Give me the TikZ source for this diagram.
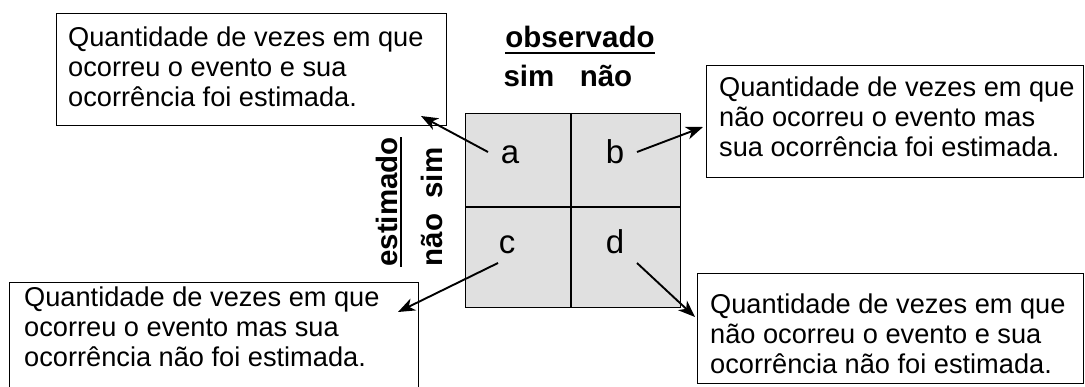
\documentclass[tikz,border=0pt]{standalone}
\usepackage{fontspec}
\setmainfont{Liberation Sans}
\usetikzlibrary{arrows.meta,calc}
\begin{document}
\begin{tikzpicture}[x=1pt,y=-1pt,
  frame/.style={draw, line width=1.4pt, inner sep=0pt, anchor=north west},
  boxtext/.style={anchor=north west, inner sep=0pt, align=left,
    font=\fontsize{27.2}{29.6}\selectfont},
  hdr/.style={inner sep=0pt, anchor=base, font=\fontsize{29.5}{34}\selectfont\bfseries},
  letter/.style={inner sep=0pt, anchor=base, font=\fontsize{33}{38}\selectfont},
  arr/.style={line width=1.9pt, -{Stealth[length=17pt, width=13pt, inset=5pt]}},
  uline/.style={line width=2.2pt}]
\useasboundingbox (0,0) rectangle (1085,387);

% grid
\node[frame, fill=black!12, minimum width=215pt, minimum height=194pt] (grid) at (465,113) {};
\draw[line width=1.4pt] (571,113) -- (571,307);
\draw[line width=1.4pt] (465,207) -- (680,207);

% letters
\node[letter] (a) at (510,164) {a};
\node[letter] (b) at (615,164) {b};
\node[letter] (c) at (507,254) {c};
\node[letter] (d) at (615,254) {d};

% headers
\node[hdr] (obs) at (580,48) {observado};
\draw[uline] ($(obs.base west)+(0,5)$) -- ($(obs.base east)+(0,5)$);
\node[hdr] (osim) at (529,87) {sim};
\node[hdr] (onao) at (606,87) {não};
\node[hdr, rotate=90] (est) at (397,202) {estimado};
\draw[uline] ($(est.base west)+(4,0)$) -- ($(est.base east)+(4,0)$);
\node[hdr, rotate=90] (esim) at (442,173) {sim};
\node[hdr, rotate=90] (enao) at (442,240) {não};

% boxes
\node[frame, minimum width=390pt, minimum height=112pt] (tlf) at (56,13) {};
\node[boxtext] (tlt) at (68,27) {Quantidade de vezes em que\\ocorreu o evento e sua\\ocorrência foi estimada.};

\node[frame, minimum width=377pt, minimum height=112pt] (trf) at (706,65) {};
\node[boxtext] (trt) at (719,77) {Quantidade de vezes em que\\não ocorreu o evento mas\\sua ocorrência foi estimada.};

\node[frame, minimum width=409pt, minimum height=120pt] (blf) at (9,282) {};
\node[boxtext] (blt) at (24,287) {Quantidade de vezes em que\\ocorreu o evento mas sua\\ocorrência não foi estimada.};

\node[frame, minimum width=386pt, minimum height=110pt] (brf) at (697,273) {};
\node[boxtext] (brt) at (710,294) {Quantidade de vezes em que\\não ocorreu o evento e sua\\ocorrência não foi estimada.};

% arrows
\coordinate (a-from) at (488,152);
\coordinate (a-to) at (421,116);
\coordinate (b-from) at (637,152);
\coordinate (b-to) at (703,127);
\coordinate (c-from) at (498,263);
\coordinate (c-to) at (398,312);
\coordinate (d-from) at (637,263);
\coordinate (d-to) at (695,317);
\draw[arr] (a-from) -- (a-to);
\draw[arr] (b-from) -- (b-to);
\draw[arr] (c-from) -- (c-to);
\draw[arr] (d-from) -- (d-to);
\end{tikzpicture}
\end{document}
